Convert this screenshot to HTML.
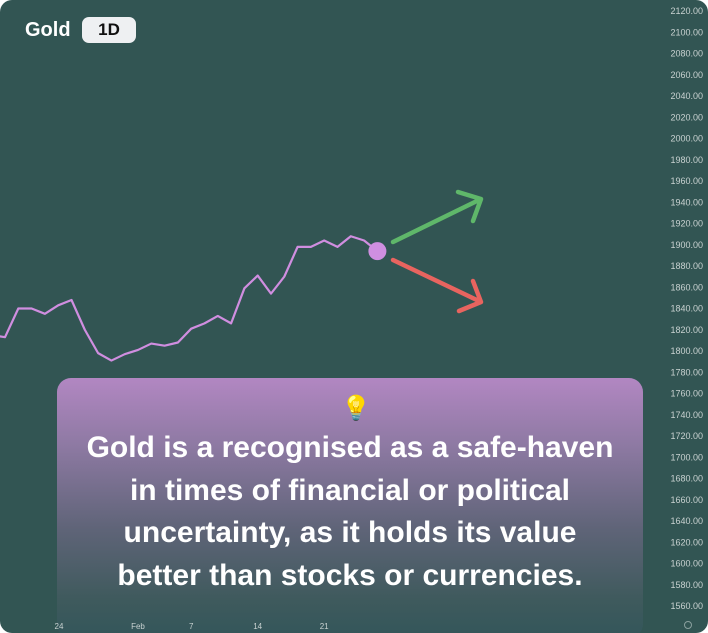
<!DOCTYPE html>
<html><head><meta charset="utf-8"><style>
html,body{margin:0;padding:0;width:708px;height:633px;overflow:hidden;background:#fff}
#wrap{position:absolute;left:0;top:0;width:708px;height:633px;background:#325553;border-radius:12px;overflow:hidden;font-family:"Liberation Sans",sans-serif}
.title{position:absolute;left:25px;top:19px;color:#fff;font-weight:bold;font-size:20px}
.tf{position:absolute;left:82px;top:17px;width:54px;height:26px;border-radius:7px;background:#eef0f2;color:#111;font-weight:bold;font-size:17px;text-align:center;line-height:26px}
.card{position:absolute;left:57px;top:378px;width:586px;height:260px;border-radius:14px;background:linear-gradient(#b287c2 0%,#8f7aa4 25%,#5f6478 58%,#3f5a5d 85%,#33565a 100%)}
.bulb{position:absolute;left:6px;width:586px;top:16px;text-align:center;font-size:24px}
.msg{position:absolute;left:0;width:586px;top:49px;text-align:center;color:#fff;font-weight:bold;font-size:30px;line-height:42.5px}
</style></head><body>
<div id="wrap">
<svg id="chart" width="708" height="633" style="position:absolute;left:0;top:0"></svg>
<div class="title">Gold</div>
<div class="tf">1D</div>
<div class="card">
<div class="bulb">💡</div>
<div class="msg">Gold is a recognised as a safe-haven<br>in times of financial or political<br>uncertainty, as it holds its value<br>better than stocks or currencies.</div>
</div>
<svg id="axis" width="708" height="633" style="position:absolute;left:0;top:0"></svg>
</div>
<script>
const prices=[1815,1813,1840,1840,1835,1843,1848,1820,1798,1791,1797,1801,1807,1805,1808,1821,1826,1833,1826,1859,1871,1854,1870,1898,1898,1904,1898,1908,1904,1894];
const yTicks=[2120,2100,2080,2060,2040,2020,2000,1980,1960,1940,1920,1900,1880,1860,1840,1820,1800,1780,1760,1740,1720,1700,1680,1660,1640,1620,1600,1580,1560];
const xLabels=["24","Feb","7","14","21"];
const xLabelIdx=[5.06,11,15,20,25];
const NS="http://www.w3.org/2000/svg";
const svg=document.getElementById('chart');
const ax=document.getElementById('axis');
function y(v){return 11+(2120-v)/20*21.25;}
function x(i){return -8.3+i*13.3;}
function mk(t,a,par){const e=document.createElementNS(NS,t);for(const k in a)e.setAttribute(k,a[k]);(par||svg).appendChild(e);return e;}
yTicks.forEach(v=>{const t=mk('text',{x:703,y:y(v)+3,'text-anchor':'end','font-size':'9','fill':'#c9d2d1','font-family':'Liberation Sans, sans-serif'},ax);t.textContent=v.toFixed(2);

});
xLabels.forEach((l,k)=>{const t=mk('text',{x:x(xLabelIdx[k]),y:629,'text-anchor':'middle','font-size':'8','fill':'#c9d2d1','font-family':'Liberation Sans, sans-serif'},ax);t.textContent=l;

});
const p=mk('polyline',{points:prices.map((v,i)=>x(i)+','+y(v)).join(' '),fill:'none',stroke:'#d08ee0','stroke-width':'2.2','stroke-linejoin':'round'});


const li=prices.length-1;
const d=mk('circle',{cx:x(li),cy:y(prices[li]),r:9,fill:'#cf8fe0'});


const g=mk('path',{d:'M393 242 L481 199 M458 192 L481 199 L473 221',stroke:'#5fb76a','stroke-width':'4.5','stroke-linecap':'round','stroke-linejoin':'round',fill:'none'});


const r=mk('path',{d:'M393 260 L481 302 M473 281 L481 302 L459 311',stroke:'#e8645f','stroke-width':'4.5','stroke-linecap':'round','stroke-linejoin':'round',fill:'none'});


const s=mk('circle',{cx:688,cy:625,r:3.5,fill:'none',stroke:'#8aa09e','stroke-width':'1'},ax);


</script>
</body></html>
